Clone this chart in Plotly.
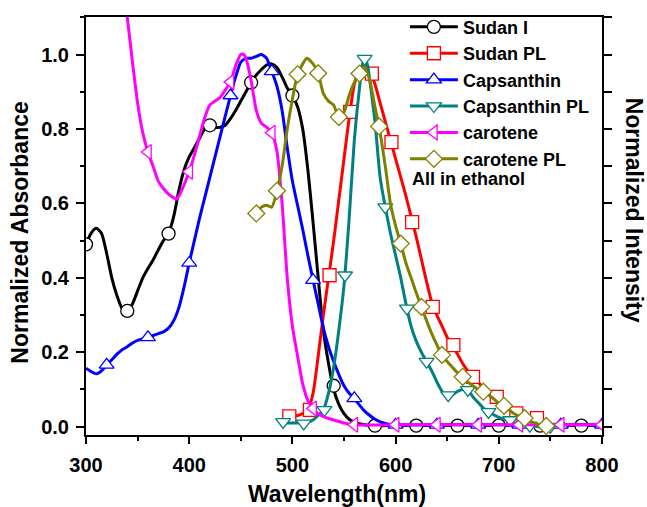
import plotly.graph_objects as go

# ---------------- data ----------------
sudan_x = [300, 305, 310, 315, 320, 325, 330, 335, 340, 345, 350, 355, 360, 365, 370, 375, 380,
           385, 390, 395, 400, 405, 410, 415, 420, 425, 430, 435, 440, 445, 450, 455, 460, 465,
           470, 475, 480, 485, 490, 495, 500, 505, 510, 515, 520, 525, 530, 535, 540, 545, 550,
           555, 560, 570, 580, 600, 650, 700, 750, 800]
sudan_y = [0.49, 0.52, 0.533, 0.52, 0.466, 0.40, 0.352, 0.318, 0.311, 0.33, 0.365, 0.40, 0.425,
           0.448, 0.475, 0.50, 0.519, 0.565, 0.635, 0.69, 0.725, 0.75, 0.775, 0.80, 0.81, 0.805,
           0.805, 0.81, 0.828, 0.85, 0.875, 0.90, 0.925, 0.945, 0.96, 0.972, 0.975, 0.965, 0.94,
           0.91, 0.89, 0.86, 0.80, 0.69, 0.55, 0.40, 0.26, 0.17, 0.10, 0.06, 0.035, 0.02, 0.012,
           0.005, 0.003, 0.003, 0.003, 0.003, 0.003, 0.003]
sudan_mx = [300, 340, 380, 420, 460, 500, 540, 580, 620, 660, 700, 740, 780]
sudan_my = [0.49, 0.311, 0.519, 0.81, 0.925, 0.89, 0.11, 0.003, 0.003, 0.003, 0.003, 0.003, 0.003]

sudanpl_x = [490, 495, 500, 505, 510, 515, 520, 525, 530, 535, 540, 545, 550, 555, 560, 565, 570,
             575, 580, 585, 590, 595, 600, 605, 610, 615, 620, 625, 630, 635, 640, 645, 650, 655,
             660, 665, 670, 675, 680, 685, 690, 695, 700, 705, 710, 715, 720, 725, 730, 735, 740,
             745, 750]
sudanpl_y = [0.02, 0.025, 0.028, 0.03, 0.035, 0.045, 0.09, 0.19, 0.30, 0.40, 0.50, 0.61, 0.72,
             0.83, 0.92, 0.96, 0.975, 0.955, 0.92, 0.87, 0.82, 0.77, 0.72, 0.67, 0.62, 0.565, 0.51,
             0.45, 0.39, 0.335, 0.30, 0.27, 0.24, 0.22, 0.195, 0.17, 0.15, 0.134, 0.12, 0.105,
             0.095, 0.085, 0.075, 0.062, 0.048, 0.04, 0.033, 0.028, 0.025, 0.023, 0.018, 0.01, 0.005]
sudanpl_mx = [497, 517, 536, 556, 577, 596, 616, 636, 656, 675, 698, 717, 737]
sudanpl_my = [0.028, 0.045, 0.407, 0.846, 0.949, 0.765, 0.55, 0.322, 0.219, 0.134, 0.08, 0.036, 0.023]

caps_x = [300, 305, 310, 315, 320, 325, 330, 335, 340, 345, 350, 355, 360, 365, 370, 375, 380,
          385, 390, 395, 400, 405, 410, 415, 420, 425, 430, 435, 440, 445, 450, 455, 460, 465,
          470, 475, 480, 485, 490, 495, 500, 505, 510, 515, 520, 525, 530, 535, 540, 545, 550,
          555, 560, 565, 570, 575, 580, 585, 590, 595, 600, 650, 700, 750, 800]
caps_y = [0.157, 0.148, 0.142, 0.15, 0.166, 0.18, 0.195, 0.207, 0.215, 0.225, 0.232, 0.236, 0.24,
          0.245, 0.25, 0.255, 0.265, 0.285, 0.32, 0.375, 0.44, 0.50, 0.56, 0.615, 0.67, 0.725,
          0.78, 0.835, 0.89, 0.94, 0.98, 0.99, 0.99, 0.995, 1.0, 0.99, 0.955, 0.915, 0.85, 0.75,
          0.66, 0.595, 0.53, 0.46, 0.394, 0.33, 0.265, 0.215, 0.175, 0.14, 0.11, 0.09, 0.076,
          0.058, 0.042, 0.03, 0.02, 0.013, 0.009, 0.006, 0.005, 0.005, 0.005, 0.005, 0.005]
caps_mx = [320, 360, 400, 440, 480, 520, 560, 600, 640, 680, 720, 760, 800]
caps_my = [0.166, 0.24, 0.44, 0.89, 0.955, 0.394, 0.076, 0.005, 0.005, 0.005, 0.005, 0.005, 0.005]

capspl_x = [490, 495, 500, 505, 510, 515, 520, 525, 530, 535, 540, 545, 550, 555, 560, 565, 568,
            570, 573, 575, 580, 585, 590, 595, 600, 605, 610, 615, 620, 625, 630, 635, 640, 645,
            650, 655, 660, 665, 670, 675, 680, 685, 690, 695, 700, 705, 710, 715, 720, 730, 740, 750]
capspl_y = [0.013, 0.01, 0.01, 0.01, 0.009, 0.012, 0.018, 0.03, 0.045, 0.09, 0.16, 0.26, 0.38,
            0.56, 0.77, 0.91, 0.975, 0.99, 0.97, 0.93, 0.82, 0.67, 0.59, 0.52, 0.46, 0.40, 0.33,
            0.27, 0.23, 0.20, 0.175, 0.15, 0.12, 0.095, 0.078, 0.085, 0.095, 0.10, 0.098, 0.08,
            0.065, 0.05, 0.04, 0.032, 0.025, 0.02, 0.018, 0.01, 0.006, 0.003, 0.0, 0.0]
capspl_mx = [491, 511, 531, 551, 570, 590, 611, 630, 651, 670, 690, 711, 730, 750]
capspl_my = [0.013, 0.009, 0.045, 0.407, 0.989, 0.59, 0.318, 0.175, 0.085, 0.099, 0.04, 0.018, 0.003, 0.0]

car_x = [335, 340, 345, 350, 355, 360, 365, 370, 375, 380, 385, 388, 390, 395, 400, 405, 410,
         415, 420, 425, 430, 435, 440, 445, 450, 453, 455, 460, 465, 470, 475, 480, 485, 490,
         495, 500, 505, 510, 515, 520, 525, 530, 535, 540, 550, 560, 600, 650, 700, 750, 800]
car_y = [1.2, 1.10, 0.98, 0.87, 0.79, 0.738, 0.70, 0.66, 0.64, 0.625, 0.615, 0.612, 0.62, 0.65,
         0.685, 0.73, 0.78, 0.83, 0.865, 0.875, 0.885, 0.905, 0.926, 0.97, 1.0, 1.0, 0.99, 0.93,
         0.85, 0.815, 0.805, 0.79, 0.74, 0.60, 0.40, 0.27, 0.19, 0.115, 0.07, 0.049, 0.035,
         0.027, 0.022, 0.018, 0.01, 0.005, 0.005, 0.005, 0.005, 0.005, 0.005]
car_mx = [360, 400, 440, 480, 520, 560, 600, 640, 680, 720, 760, 800]
car_my = [0.738, 0.685, 0.926, 0.79, 0.049, 0.005, 0.005, 0.005, 0.005, 0.005, 0.005, 0.005]

carpl_x = [465, 470, 475, 480, 485, 490, 495, 500, 505, 510, 514, 520, 525, 530, 535, 540, 545,
           550, 555, 560, 565, 570, 575, 580, 584, 590, 595, 600, 605, 610, 615, 620, 625, 630,
           635, 640, 645, 650, 655, 660, 665, 670, 675, 680, 685, 690, 695, 700, 705, 710, 715,
           720, 725, 730, 735, 740, 746]
carpl_y = [0.573, 0.59, 0.595, 0.59, 0.634, 0.70, 0.80, 0.88, 0.947, 0.975, 0.99, 0.975, 0.95,
           0.895, 0.875, 0.864, 0.832, 0.845, 0.89, 0.925, 0.949, 0.967, 0.93, 0.86, 0.807, 0.70,
           0.60, 0.54, 0.492, 0.44, 0.40, 0.36, 0.322, 0.285, 0.25, 0.22, 0.193, 0.175, 0.16,
           0.145, 0.134, 0.12, 0.11, 0.10, 0.094, 0.085, 0.075, 0.063, 0.056, 0.045, 0.035, 0.028,
           0.023, 0.015, 0.01, 0.005, 0.002]
carpl_mx = [465, 485, 505, 525, 545, 565, 584, 605, 625, 645, 665, 685, 705, 725, 746]
carpl_my = [0.573, 0.634, 0.947, 0.95, 0.832, 0.949, 0.807, 0.492, 0.322, 0.193, 0.134, 0.094,
            0.056, 0.023, 0.002]

names = ["Sudan I", "Sudan PL", "Capsanthin", "Capsanthin PL", "carotene", "carotene PL"]
note_text = "All in ethanol"
x_ticks = [300, 400, 500, 600, 700, 800]
y_ticks = [0.0, 0.2, 0.4, 0.6, 0.8, 1.0]

# ---------------- styling ----------------
FONT = "Liberation Sans, Arial, sans-serif"
colors = ["#000000", "#FF0000", "#0000FF", "#008080", "#FF00FF", "#808000"]
symbols = ["circle", "square", "triangle-up", "triangle-down", "triangle-left", "diamond"]
series = [
    (sudan_x, sudan_y, sudan_mx, sudan_my),
    (sudanpl_x, sudanpl_y, sudanpl_mx, sudanpl_my),
    (caps_x, caps_y, caps_mx, caps_my),
    (capspl_x, capspl_y, capspl_mx, capspl_my),
    (car_x, car_y, car_mx, car_my),
    (carpl_x, carpl_y, carpl_mx, carpl_my),
]

fig = go.Figure()
for i, (x, y, mx, my) in enumerate(series):
    c = colors[i]
    fig.add_trace(go.Scatter(x=x, y=y, mode="lines",
                             line=dict(color=c, width=3, shape="spline", smoothing=0.6),
                             showlegend=False, hoverinfo="skip"))
    fig.add_trace(go.Scatter(x=mx, y=my, mode="markers",
                             marker=dict(symbol=symbols[i], size=13, color="white",
                                         line=dict(color=c, width=1.3)),
                             showlegend=False))

for i, n in enumerate(names):
    fig.add_trace(go.Scatter(x=[None], y=[None], mode="lines+markers", name=n,
                             line=dict(color=colors[i], width=3),
                             marker=dict(symbol=symbols[i], size=13, color="white",
                                         line=dict(color=colors[i], width=1.3))))

# invisible trace to activate the right axis
fig.add_trace(go.Scatter(x=[None], y=[None], yaxis="y2", showlegend=False))

yr = [-0.0223, 1.101]
tickfont = dict(family=FONT, size=20, color="black", weight="bold")
fig.update_layout(
    width=647, height=507,
    margin=dict(l=86, r=45, t=17, b=72, autoexpand=False),
    paper_bgcolor="white", plot_bgcolor="white",
    font=dict(family=FONT, color="black"),
    xaxis=dict(range=[300, 800], tickvals=x_ticks, ticks="outside", ticklen=7, tickwidth=2,
               tickcolor="black", showline=True, linewidth=2, linecolor="black", mirror=True,
               showgrid=False, zeroline=False, tickfont=tickfont, ticklabelstandoff=4,
               minor=dict(dtick=50, tick0=300, ticks="outside", ticklen=4, tickwidth=2,
                          tickcolor="black", showgrid=False)),
    yaxis=dict(range=yr, tickvals=y_ticks, ticktext=["%.1f" % v for v in y_ticks],
               ticks="outside", ticklen=8, tickwidth=2, tickcolor="black", showline=True,
               linewidth=2, linecolor="black", showgrid=False, zeroline=False,
               tickfont=tickfont, ticklabelstandoff=3,
               minor=dict(dtick=0.1, tick0=0, ticks="outside", ticklen=4, tickwidth=2,
                          tickcolor="black", showgrid=False)),
    yaxis2=dict(range=yr, overlaying="y", side="right", tickvals=y_ticks, ticks="outside",
                ticklen=8, tickwidth=2, tickcolor="black", showline=True, linewidth=2,
                linecolor="black", showgrid=False, zeroline=False, showticklabels=False,
                minor=dict(dtick=0.1, tick0=0, ticks="outside", ticklen=8, tickwidth=2,
                           tickcolor="black", showgrid=False)),
    legend=dict(x=0.618, y=1.02, xanchor="left", yanchor="top", bgcolor="rgba(0,0,0,0)",
                borderwidth=0, itemwidth=48, tracegroupgap=0,
                font=dict(family=FONT, size=18, color="black", weight="bold")),
    showlegend=True,
)

titlefont = dict(family=FONT, size=23, color="black", weight="bold")
fig.add_annotation(text="Wavelength(nm)", xref="paper", yref="paper", x=0.4855, y=-0.141,
                   xanchor="center", yanchor="middle", showarrow=False, font=titlefont)
fig.add_annotation(text="Normalized Absorbance", xref="paper", yref="paper", x=-0.128, y=0.484,
                   xanchor="center", yanchor="middle", textangle=-90, showarrow=False,
                   font=titlefont)
fig.add_annotation(text="Normalized Intensity", xref="paper", yref="paper", x=1.061, y=0.538,
                   xanchor="center", yanchor="middle", textangle=90, showarrow=False,
                   font=titlefont)
fig.add_annotation(text=note_text, xref="paper", yref="paper", x=0.628, y=0.612,
                   xanchor="left", yanchor="middle", showarrow=False,
                   font=dict(family=FONT, size=18, color="black", weight="bold"))

fig.write_html("out.html", config={"displayModeBar": False},
               post_script="document.body.style.margin='0px';"
               "document.body.style.padding='0px';")
